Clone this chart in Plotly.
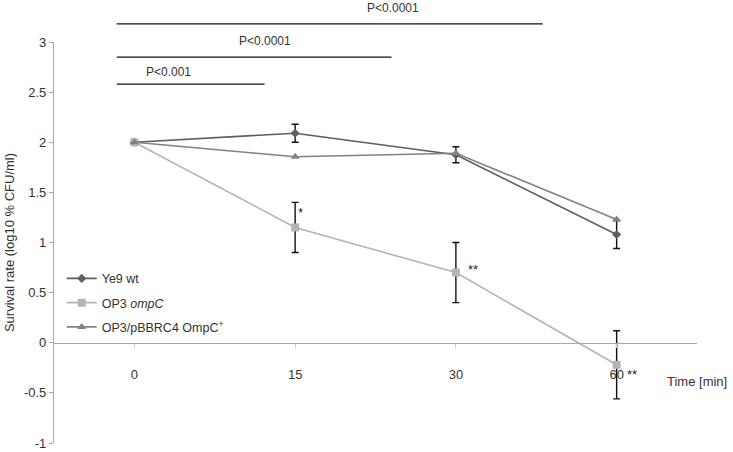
import plotly.graph_objects as go

# ---- data ----
times = ["0", "15", "30", "60"]

ye9_vals = [2.0, 2.09, 1.875, 1.08]
ye9_err = [0.0, 0.09, 0.08, 0.14]

ompc_vals = [2.0, 1.15, 0.70, -0.22]
ompc_err = [0.0, 0.25, 0.30, 0.34]

comp_vals = [2.0, 1.855, 1.89, 1.23]

series_names = ["Ye9 wt", "OP3 <i>ompC</i>", "OP3/pBBRC4 OmpC<sup>+</sup>"]

y_ticks = [-1, -0.5, 0, 0.5, 1, 1.5, 2, 2.5, 3]
y_tick_labels = ["-1", "-0.5", "0", "0.5", "1", "1.5", "2", "2.5", "3"]

# significance bars: label, start index, end index, bar level, label x index, label level
sig_labels = ["P<0.0001", "P<0.0001", "P<0.001"]
sig_start = [-0.11, -0.11, -0.11]
sig_end = [2.54, 1.6, 0.81]
sig_level = [3.18, 2.85, 2.58]
sig_text_x = [1.61, 0.81, 0.21]
sig_text_level = [3.34, 3.01, 2.70]

# asterisks: category, y value, label
star_cat = ["15", "30", "60"]
star_y = [1.30, 0.73, -0.32]
star_text = ["*", "**", "**"]
star_shift = [5, 17, 15]

Y_MIN, Y_MAX = -1, 3
X_MIN, X_MAX = -0.5, 3.5

def px_y(v):
    return (v - Y_MIN) / (Y_MAX - Y_MIN)

def px_x(i):
    return (i - X_MIN) / (X_MAX - X_MIN)

font_family = "Arial, Liberation Sans, sans-serif"
txt_color = "#333333"

fig = go.Figure()

fig.add_trace(go.Scatter(
    x=times, y=ye9_vals, name=series_names[0], mode="lines+markers",
    line=dict(color="#5e5e5e", width=1.6),
    marker=dict(symbol="diamond", size=7, color="#5e5e5e"),
    error_y=dict(type="data", array=ye9_err, color="#111111", thickness=1.4, width=3.5),
    legendgroup="a",
))
fig.add_trace(go.Scatter(
    x=times, y=ompc_vals, name=series_names[1], mode="lines+markers",
    line=dict(color="#b4b4b4", width=1.6),
    marker=dict(symbol="square", size=8, color="#b4b4b4"),
    error_y=dict(type="data", array=ompc_err, color="#111111", thickness=1.4, width=3.5),
    legendgroup="b",
))
fig.add_trace(go.Scatter(
    x=times, y=comp_vals, name=series_names[2], mode="lines+markers",
    line=dict(color="#828282", width=1.6),
    marker=dict(symbol="triangle-up", size=8, color="#828282"),
    legendgroup="c",
))

shapes = []
annotations = []
for lab, s, e, lv, tx, tl in zip(sig_labels, sig_start, sig_end, sig_level, sig_text_x, sig_text_level):
    shapes.append(dict(type="line", xref="paper", yref="paper",
                       x0=px_x(s), x1=px_x(e), y0=px_y(lv), y1=px_y(lv),
                       line=dict(color="#111111", width=1.3)))
    annotations.append(dict(xref="paper", yref="paper", x=px_x(tx), y=px_y(tl),
                            xanchor="center", yanchor="middle",
                            text=lab, showarrow=False,
                            font=dict(size=12, color=txt_color, family=font_family)))

for c, yv, t, sh in zip(star_cat, star_y, star_text, star_shift):
    annotations.append(dict(xref="x", yref="y", x=times.index(c), y=yv,
                            xanchor="center", yanchor="middle", xshift=sh,
                            text=t, showarrow=False,
                            font=dict(size=13, color="#222222", family=font_family)))

annotations.append(dict(xref="paper", yref="paper", x=1.0, y=px_y(-0.39),
                        xanchor="center", yanchor="middle",
                        text="Time [min]", showarrow=False,
                        font=dict(size=13, color=txt_color, family=font_family)))

fig.update_layout(
    width=733, height=452,
    margin=dict(l=54, r=36, t=42, b=9),
    paper_bgcolor="white", plot_bgcolor="white",
    font=dict(family=font_family, size=13, color=txt_color),
    showlegend=True,
    legend=dict(x=0.012, y=0.447, xanchor="left", yanchor="top",
                bgcolor="rgba(0,0,0,0)", traceorder="grouped", tracegroupgap=5,
                font=dict(size=12.5, color=txt_color), itemwidth=30),
    shapes=shapes,
    annotations=annotations,
    xaxis=dict(type="category", categoryorder="array", categoryarray=times,
               range=[X_MIN, X_MAX], anchor="free", position=px_y(0),
               showline=True, linecolor="#a8a8a8", linewidth=1.2,
               ticks="outside", ticklen=4, tickcolor="#cccccc",
               ticklabelstandoff=16, showgrid=False, zeroline=False,
               tickfont=dict(size=13, color=txt_color)),
    yaxis=dict(range=[Y_MIN, Y_MAX], tickvals=y_ticks, ticktext=y_tick_labels,
               showline=True, linecolor="#a8a8a8", linewidth=1.2,
               ticks="outside", ticklen=4, tickcolor="#a8a8a8",
               showgrid=False, zeroline=False, automargin=False,
               tickfont=dict(size=13, color=txt_color),
               title=dict(text="Survival rate (log10 % CFU/ml)", standoff=6,
                          font=dict(size=13, color=txt_color))),
)

fig.write_html("out.html", config={"displayModeBar": False},
               post_script="document.body.style.margin='0';")
